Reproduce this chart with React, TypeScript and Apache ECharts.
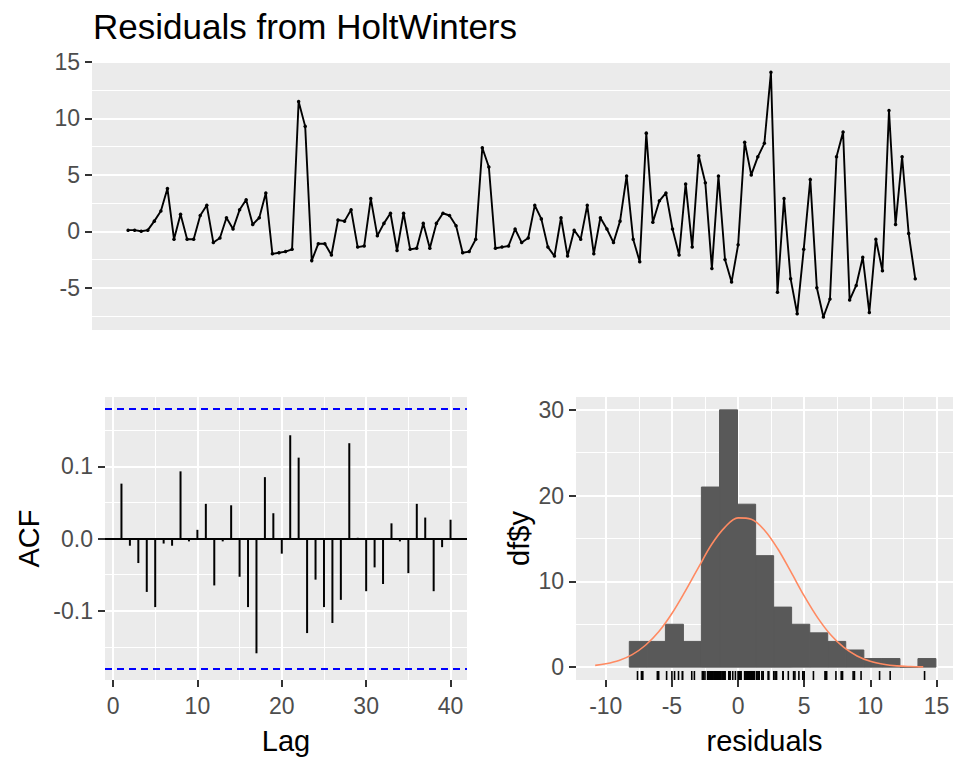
import React, { useEffect, useRef } from "react";
import * as echarts from "echarts";

const FONT = "'Liberation Sans', Arial, Helvetica, sans-serif";

// Residual series (121 observations)
const resid = [
  0.1, 0.1, 0.0, 0.1, 0.9, 1.8, 3.8, -0.7, 1.5, -0.7,
  -0.7, 1.4, 2.3, -1.0, -0.6, 1.2, 0.2, 1.9, 2.8, 0.6,
  1.2, 3.4, -2.0, -1.9, -1.8, -1.6, 11.5, 9.3, -2.6, -1.1,
  -1.1, -2.1, 1.0, 0.9, 1.9, -1.4, -1.3, 2.9, -0.4, 0.7,
  1.6, -1.7, 1.6, -1.6, -1.5, 0.7, -1.5, 0.7, 1.6, 1.4,
  0.5, -1.9, -1.8, -0.7, 7.4, 5.7, -1.5, -1.4, -1.3, 0.2,
  -1.0, -0.6, 2.3, 1.1, -1.4, -2.2, 1.2, -2.2, 0.1, -0.7,
  2.3, -2.0, 1.2, 0.2, -1.0, 0.9, 4.9, -0.7, -2.7, 8.7,
  0.8, 2.7, 3.4, 0.2, -2.1, 4.2, -1.4, 6.7, 4.3, -3.3,
  4.9, -2.5, -4.5, -1.2, 7.9, 5.0, 6.6, 7.8, 14.1, -5.4,
  2.9, -4.2, -7.3, -1.6, 4.6, -5.0, -7.6, -6.0, 6.6, 8.8,
  -6.1, -4.8, -2.3, -7.2, -0.7, -3.5, 10.7, 0.6, 6.6, -0.2, -4.2,
];

// ACF values for lags 1..40
const acfValues = [
  0.076, -0.01, -0.034, -0.074, -0.095, -0.007, -0.01, 0.093, -0.004, 0.012,
  0.048, -0.065, -0.004, 0.046, -0.053, -0.095, -0.159, 0.085, 0.035, -0.021,
  0.143, 0.112, -0.131, -0.057, -0.095, -0.117, -0.085, 0.132, 0.001, -0.073,
  -0.04, -0.063, 0.021, -0.004, -0.048, 0.048, 0.029, -0.073, -0.012, 0.026,
];
const ciLimit = 0.178;

// Histogram
const binEdges = [
  -8.22, -6.86, -5.49, -4.13, -2.77, -1.4, -0.04, 1.33, 2.69, 4.05,
  5.42, 6.78, 8.14, 9.51, 10.87, 12.24, 13.6, 14.96,
];
const binCounts = [3, 3, 5, 3, 21, 30, 19, 13, 7, 5, 4, 3, 2, 1, 1, 0, 1];

// Normal curve overlay
const normX = [-10.8, -10, -9, -8, -7, -6, -5, -4, -3, -2, -1, 0, 1, 2, 3, 4, 5, 6, 7, 8, 9, 10, 11, 12, 13, 14];
const normY = [0.21, 0.39, 0.78, 1.46, 2.55, 4.13, 6.26, 8.84, 11.6, 14.3, 16.3, 17.4, 17.25, 15.97, 13.8, 11.1, 8.3, 5.8, 3.77, 2.29, 1.3, 0.68, 0.34, 0.15, 0.07, 0.03];

// Tick labels
const topYTicks = [-5, 0, 5, 10, 15];
const topYMinor = [-7.5, -2.5, 2.5, 7.5, 12.5];
const acfXTicks = [0, 10, 20, 30, 40];
const acfXMinor = [5, 15, 25, 35];
const acfYTicks = [-0.1, 0, 0.1];
const acfYMinor = [-0.15, -0.05, 0.05, 0.15];
const histXTicks = [-10, -5, 0, 5, 10, 15];
const histXMinor = [-7.5, -2.5, 2.5, 7.5, 12.5];
const histYTicks = [0, 10, 20, 30];
const histYMinor = [5, 15, 25];

const HIST_YMIN = -1.5;

function majorAxis(
  gridIndex: number,
  min: number,
  max: number,
  values: number[],
  margin: number,
  fmt?: (v: number) => string,
  name?: string,
  nameGap?: number
): any {
  return {
    type: "value",
    gridIndex,
    min,
    max,
    name: name || "",
    nameLocation: "middle",
    nameGap: nameGap || 0,
    nameTextStyle: { fontSize: 29, color: "#000", fontFamily: FONT },
    axisLine: { show: false, onZero: false },
    axisTick: {
      show: true,
      length: 7,
      lineStyle: { color: "#333333", width: 2 },
      customValues: values,
    },
    axisLabel: {
      show: true,
      customValues: values,
      color: "#4D4D4D",
      fontSize: 23,
      fontFamily: FONT,
      margin,
      formatter: fmt ? (v: number) => fmt(v) : (v: number) => String(v),
    },
    splitLine: { show: true, lineStyle: { color: "#FFFFFF", width: 2 } },
  };
}

function minorAxis(gridIndex: number, min: number, max: number, values: number[]): any {
  return {
    type: "value",
    gridIndex,
    min,
    max,
    axisLine: { show: false, onZero: false },
    axisTick: { show: false, customValues: values },
    axisLabel: { show: false },
    splitLine: { show: true, lineStyle: { color: "#FFFFFF", width: 1 } },
  };
}

export default function App() {
  const ref = useRef<HTMLDivElement>(null);

  useEffect(() => {
    if (!ref.current) return;
    const chart = echarts.init(ref.current, null, { renderer: "svg" });

    const topMin = -4.5;
    const topMax = 126.3;

    const option: any = {
      animation: false,
      backgroundColor: "#FFFFFF",
      title: {
        text: "Residuals from HoltWinters",
        left: 93,
        top: 9,
        padding: 0,
        textStyle: { fontSize: 35, fontWeight: "normal", color: "#000", fontFamily: FONT },
      },
      grid: [
        { left: 92, top: 61.5, width: 858, height: 268.5, show: true, backgroundColor: "#EBEBEB", borderWidth: 0 },
        { left: 105, top: 397, width: 362, height: 283, show: true, backgroundColor: "#EBEBEB", borderWidth: 0 },
        { left: 576, top: 397, width: 377, height: 283, show: true, backgroundColor: "#EBEBEB", borderWidth: 0 },
      ],
      xAxis: [
        { type: "value", gridIndex: 0, min: topMin, max: topMax, show: false, axisLine: { onZero: false } },
        majorAxis(1, -0.95, 41.95, acfXTicks, 14, undefined, "Lag", 46),
        minorAxis(1, -0.95, 41.95, acfXMinor),
        majorAxis(2, -12.25, 16.25, histXTicks, 14, undefined, "residuals", 46),
        minorAxis(2, -12.25, 16.25, histXMinor),
      ],
      yAxis: [
        majorAxis(0, -8.75, 15.05, topYTicks, 12),
        minorAxis(0, -8.75, 15.05, topYMinor),
        majorAxis(1, -0.196, 0.196, acfYTicks, 12, (v) => v.toFixed(1), "ACF", 62),
        minorAxis(1, -0.196, 0.196, acfYMinor),
        majorAxis(2, HIST_YMIN, 31.5, histYTicks, 12, undefined, "df$y", 43),
        minorAxis(2, HIST_YMIN, 31.5, histYMinor),
      ],
      series: [
        {
          type: "line",
          xAxisIndex: 0,
          yAxisIndex: 0,
          data: resid.map((v, i) => [i + 1, v]),
          showSymbol: true,
          symbol: "circle",
          symbolSize: 3.5,
          itemStyle: { color: "#000" },
          lineStyle: { color: "#000", width: 1.9 },
          silent: true,
        },
        {
          type: "line",
          xAxisIndex: 1,
          yAxisIndex: 2,
          data: acfValues.map((v, i) => [i + 1, v]),
          showSymbol: false,
          lineStyle: { opacity: 0, width: 0 },
          silent: true,
          markLine: {
            symbol: "none",
            silent: true,
            label: { show: false },
            data: [
              { yAxis: 0, lineStyle: { color: "#000", type: "solid", width: 2 } },
              { yAxis: ciLimit, lineStyle: { color: "#0000FF", type: [7, 5], width: 2 } },
              { yAxis: -ciLimit, lineStyle: { color: "#0000FF", type: [7, 5], width: 2 } },
            ],
          },
        },
        {
          type: "custom",
          xAxisIndex: 1,
          yAxisIndex: 2,
          data: acfValues.map((v, i) => [i + 1, v]),
          encode: { x: 0, y: 1 },
          silent: true,
          renderItem: (params: any, api: any) => {
            const p0 = api.coord([api.value(0), 0]);
            const p1 = api.coord([api.value(0), api.value(1)]);
            return {
              type: "line",
              shape: { x1: p0[0], y1: p0[1], x2: p1[0], y2: p1[1] },
              style: { stroke: "#000", lineWidth: 2 },
            };
          },
        },
        {
          type: "custom",
          xAxisIndex: 3,
          yAxisIndex: 4,
          data: binCounts.map((c, i) => [binEdges[i], binEdges[i + 1], c]),
          encode: { x: [0, 1], y: 2 },
          silent: true,
          renderItem: (params: any, api: any) => {
            const p0 = api.coord([api.value(0), api.value(2)]);
            const p1 = api.coord([api.value(1), 0]);
            return {
              type: "rect",
              shape: { x: p0[0], y: p0[1], width: p1[0] - p0[0], height: p1[1] - p0[1] },
              style: { fill: "#595959", stroke: "#595959", lineWidth: 1 },
            };
          },
        },
        {
          type: "line",
          xAxisIndex: 3,
          yAxisIndex: 4,
          data: normX.map((x, i) => [x, normY[i]]),
          smooth: 0.35,
          showSymbol: false,
          lineStyle: { color: "#FF8A62", width: 1.6 },
          silent: true,
        },
        {
          type: "custom",
          xAxisIndex: 3,
          yAxisIndex: 4,
          data: resid.map((v) => [v, HIST_YMIN]),
          encode: { x: 0, y: 1 },
          silent: true,
          renderItem: (params: any, api: any) => {
            const p = api.coord([api.value(0), HIST_YMIN]);
            return {
              type: "line",
              shape: { x1: p[0], y1: p[1], x2: p[0], y2: p[1] - 9 },
              style: { stroke: "#000", lineWidth: 1.6 },
            };
          },
        },
      ],
    };

    chart.setOption(option);
    return () => chart.dispose();
  }, []);

  return (
    <div
      ref={ref}
      style={{ position: "absolute", left: 0, top: 0, width: 953, height: 761, background: "#FFFFFF" }}
    />
  );
}
